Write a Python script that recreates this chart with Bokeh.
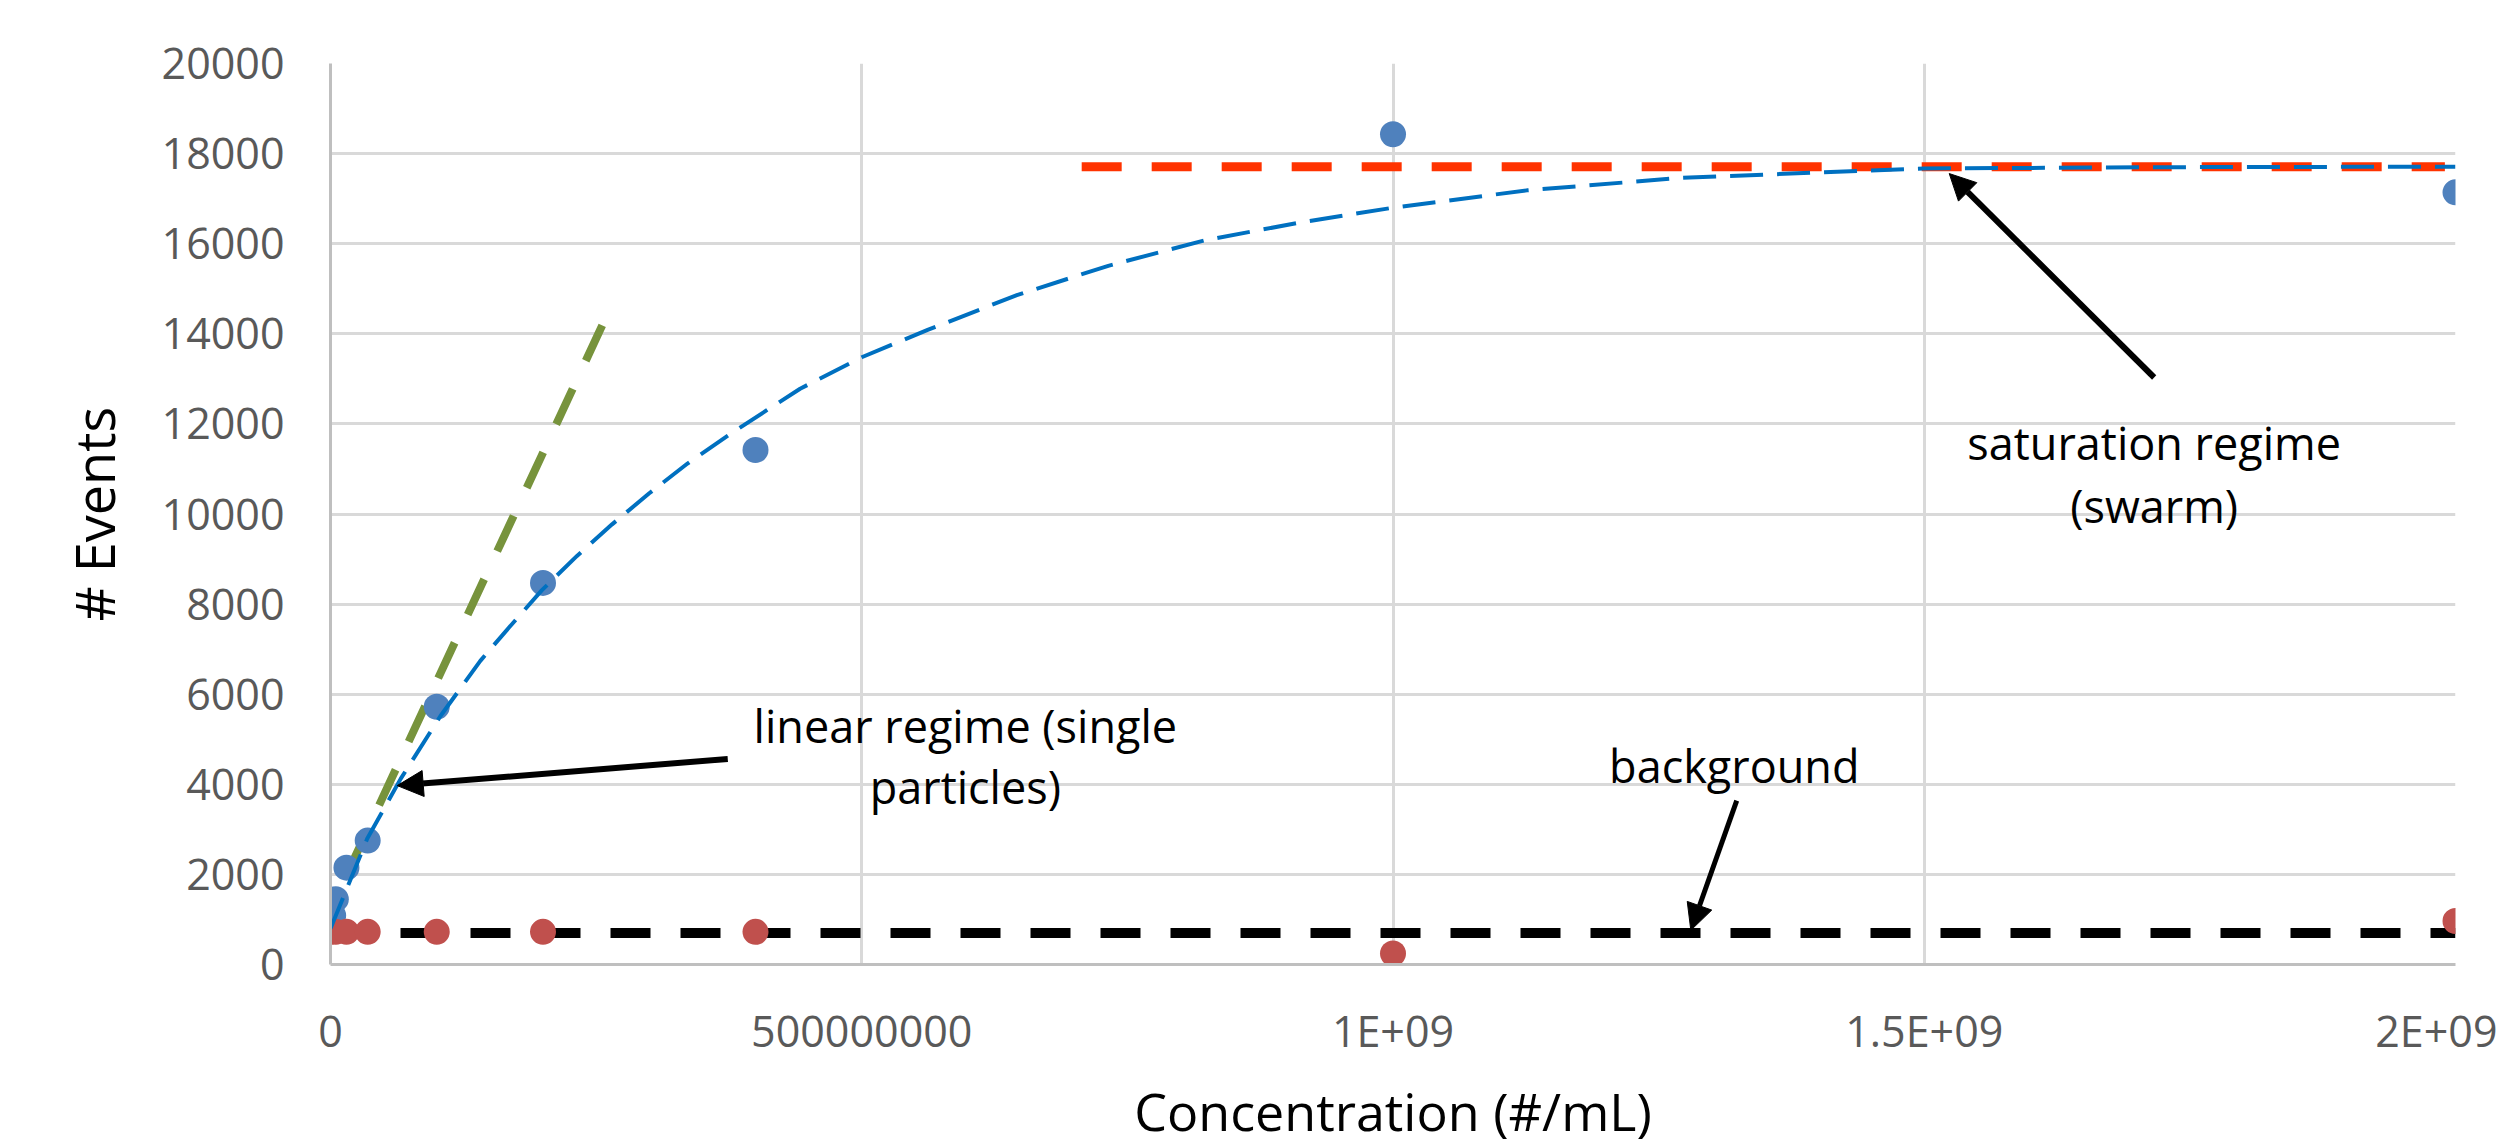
from bokeh.plotting import figure
from bokeh.models import Range1d, FixedTicker, Arrow, NormalHead, Label
from bokeh.embed import file_html
from bokeh.resources import INLINE

FONT = "Open Sans"

# ---- data ----
conc_signal = [2.5e6, 5.0e6, 1.5e7, 3.5e7, 1.0e8, 2.0e8, 4.0e8, 1.0e9, 2.0e9]
events_signal = [1090, 1450, 2150, 2750, 5720, 8470, 11420, 18430, 17140]

conc_background = [0, 5.0e6, 1.5e7, 3.5e7, 1.0e8, 2.0e8, 4.0e8, 1.0e9, 2.0e9]
events_background = [725, 725, 725, 725, 725, 725, 725, 245, 965]

fit_conc = [0, 3.45e7, 6.6e7, 1.035e8, 1.41e8, 1.68e8, 1.99e8, 2.32e8, 2.65e8,
            3.0e8, 3.36e8, 3.74e8, 4.11e8, 4.42e8, 5.0e8, 5.62e8, 6.46e8,
            7.32e8, 8.23e8, 9.12e8, 1.0e9, 1.126e9, 1.272e9, 1.5e9, 1.75e9, 2.0e9]
fit_events = [800, 2790, 4120, 5516, 6740, 7480, 8310, 9070, 9770,
              10460, 11120, 11740, 12310, 12780, 13480, 14086, 14860,
              15509, 16077, 16467, 16799, 17184, 17463, 17670, 17700, 17710]

linear_conc = [1.8e7, 2.56e8]
linear_events = [2130, 14200]

saturation_conc = [7.07e8, 1.99e9]
saturation_events = [17710, 17710]

background_conc = [0, 2.0e9]
background_events = [700, 700]

x_ticks = [0, 500000000, 1000000000, 1500000000, 2000000000]
x_tick_labels = ["0", "500000000", "1E+09", "1.5E+09", "2E+09"]
y_ticks = [0, 2000, 4000, 6000, 8000, 10000, 12000, 14000, 16000, 18000, 20000]
y_tick_labels = ["0", "2000", "4000", "6000", "8000", "10000", "12000",
                 "14000", "16000", "18000", "20000"]

# annotations: (text, x, y)
notes = [
    ("linear regime (single", 5.975e8, 5316),
    ("particles)", 5.975e8, 3942),
    ("background", 1.3212e9, 4407),
    ("saturation regime", 1.7164e9, 11584),
    ("(swarm)", 1.7164e9, 10188),
]
# arrows: (x_start, y_start, x_end, y_end, width)
arrows = [
    (3.739e8, 4563, 0.628e8, 3971, 6),
    (1.3235e9, 3639, 1.2803e9, 760, 5),
    (1.7164e9, 13030, 1.5235e9, 17557, 6),
]

p = figure(width=2497, height=1148, output_backend="svg", toolbar_location=None,
           x_range=Range1d(0, 2.0e9), y_range=Range1d(0, 20000),
           min_border_left=330, min_border_right=42,
           min_border_top=63, min_border_bottom=150)
p.outline_line_color = None
p.background_fill_color = "white"
p.border_fill_color = "white"

for ax, ticks, labels in ((p.xaxis[0], x_ticks, x_tick_labels), (p.yaxis[0], y_ticks, y_tick_labels)):
    ax.ticker = FixedTicker(ticks=ticks)
    ax.major_label_overrides = {t: l for t, l in zip(ticks, labels)}
    ax.major_label_text_font = FONT
    ax.major_label_text_font_size = "43px"
    ax.major_label_text_color = "#595959"
    ax.major_tick_line_color = None
    ax.minor_tick_line_color = None
    ax.axis_line_color = "#BFBFBF"
    ax.axis_line_width = 3
    ax.axis_label_text_font = FONT
    ax.axis_label_text_font_style = "normal"
    ax.axis_label_text_color = "black"

p.xaxis.axis_label = "Concentration (#/mL)"
p.xaxis.axis_label_text_font_size = "52px"
p.xaxis.major_label_standoff = 30
p.xaxis.axis_label_standoff = 12
p.yaxis.axis_label = "# Events"
p.yaxis.axis_label_text_font_size = "54px"
p.yaxis.major_label_standoff = 40
p.yaxis.axis_label_standoff = 28

p.xgrid.ticker = FixedTicker(ticks=x_ticks)
p.ygrid.ticker = FixedTicker(ticks=y_ticks)
p.grid.grid_line_color = "#D9D9D9"
p.grid.grid_line_width = 3

# lines
p.line(linear_conc, linear_events, line_color="#77933C", line_width=8, line_dash="39 31")
p.line(background_conc, background_events, line_color="black", line_width=10, line_dash="40 30")
p.line(saturation_conc, saturation_events, line_color="#FF3300", line_width=9, line_dash="40 30")

# points
p.scatter(conc_signal, events_signal, size=26, fill_color="#4F81BD", line_color=None)
p.scatter(conc_background, events_background, size=26, fill_color="#C0504D", line_color=None)

# fitted curve
p.line(fit_conc, fit_events, line_color="#0070C0", line_width=4, line_dash="33 14")

for xs, ys, xe, ye, w in arrows:
    p.add_layout(Arrow(x_start=xs, y_start=ys, x_end=xe, y_end=ye,
                       line_color="black", line_width=w,
                       end=NormalHead(size=26, fill_color="black", line_color="black", line_width=1)))

for txt, x, y in notes:
    p.add_layout(Label(x=x, y=y, text=txt, text_font=FONT, text_font_size="45px",
                       text_color="black", text_align="center", text_baseline="alphabetic"))

open("out.html", "w").write(file_html(p, INLINE))
